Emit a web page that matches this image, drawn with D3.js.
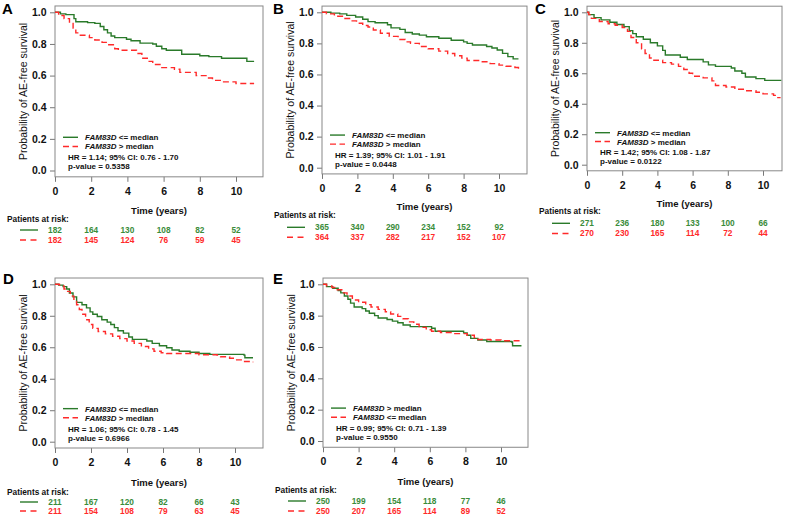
<!DOCTYPE html>
<html><head><meta charset="utf-8">
<script src="https://cdn.jsdelivr.net/npm/d3@7"></script>
<style>
html,body{margin:0;padding:0;background:#fff;}
svg{display:block;font-family:"Liberation Sans",Arial,sans-serif;}
</style></head>
<body><div id="chart"></div>
<script>
// ---------- data ----------
const xTicks = [0, 2, 4, 6, 8, 10];
const yTicks = [0, 0.2, 0.4, 0.6, 0.8, 1.0];
const panelNames = ["A", "B", "C", "D", "E"];

const A_green = [[0,1],[0.3,0.99],[0.6,0.985],[1.05,0.96],[1.15,0.94],[1.8,0.935],[2.2,0.93],[2.5,0.91],[2.7,0.89],[2.9,0.87],[3.1,0.85],[3.3,0.84],[3.95,0.83],[4.2,0.82],[4.7,0.805],[5.4,0.80],[5.6,0.785],[5.9,0.77],[6.15,0.76],[7.0,0.735],[8.0,0.725],[8.5,0.72],[9.2,0.71],[10.6,0.69],[11.0,0.69]];
const A_red = [[0,1],[0.2,0.98],[0.5,0.96],[0.8,0.93],[1.0,0.90],[1.15,0.87],[1.4,0.855],[1.9,0.84],[2.2,0.825],[2.6,0.81],[2.9,0.795],[3.3,0.77],[3.5,0.76],[4.5,0.74],[4.8,0.71],[5.1,0.69],[5.4,0.67],[5.8,0.65],[6.6,0.64],[6.9,0.62],[7.8,0.60],[8.4,0.585],[8.7,0.57],[9.2,0.56],[10.0,0.55],[11.0,0.55]];
const B_green = [[0,1],[0.5,0.995],[1.0,0.99],[1.4,0.98],[1.9,0.97],[2.3,0.955],[2.6,0.94],[3.0,0.933],[3.7,0.92],[3.9,0.90],[4.4,0.89],[4.7,0.87],[5.1,0.86],[5.5,0.853],[5.9,0.843],[6.6,0.833],[7.3,0.82],[8.0,0.81],[8.2,0.80],[8.5,0.79],[9.3,0.78],[9.6,0.77],[9.9,0.757],[10.2,0.736],[10.5,0.715],[10.8,0.70],[11.1,0.70]];
const B_red = [[0,1],[0.25,0.99],[0.7,0.975],[1.2,0.96],[1.6,0.945],[1.95,0.93],[2.3,0.915],[2.6,0.905],[2.9,0.886],[3.3,0.865],[3.8,0.845],[4.3,0.825],[4.7,0.81],[5.0,0.80],[5.5,0.78],[6.0,0.765],[6.6,0.75],[7.1,0.735],[7.5,0.72],[7.9,0.705],[8.2,0.69],[8.9,0.682],[9.5,0.67],[10.0,0.66],[10.4,0.653],[10.9,0.645],[11.1,0.635],[11.15,0.635]];
const C_green = [[0,1],[0.1,0.985],[0.4,0.965],[0.8,0.95],[1.3,0.935],[1.7,0.92],[2.1,0.906],[2.4,0.88],[2.6,0.86],[2.8,0.84],[3.2,0.823],[3.6,0.80],[4.0,0.78],[4.3,0.75],[4.45,0.72],[5.3,0.705],[5.7,0.69],[6.6,0.675],[6.9,0.655],[7.3,0.645],[8.2,0.635],[8.4,0.615],[8.8,0.60],[9.0,0.575],[9.6,0.565],[10.1,0.553],[11.0,0.55]];
const C_red = [[0,1],[0.1,0.985],[0.25,0.96],[0.7,0.94],[1.2,0.925],[1.6,0.915],[2.0,0.90],[2.3,0.875],[2.5,0.835],[2.8,0.80],[3.1,0.76],[3.3,0.73],[3.55,0.70],[3.8,0.685],[4.3,0.67],[4.8,0.66],[5.2,0.645],[5.5,0.625],[5.8,0.60],[6.0,0.58],[6.6,0.57],[7.1,0.55],[7.3,0.52],[7.9,0.51],[8.4,0.495],[9.0,0.485],[9.6,0.475],[10.0,0.465],[10.6,0.455],[10.8,0.44],[11.0,0.44]];
const D_green = [[0,1],[0.2,0.995],[0.45,0.985],[0.65,0.97],[0.8,0.945],[1.0,0.92],[1.2,0.885],[1.5,0.87],[1.75,0.85],[1.95,0.825],[2.1,0.81],[2.35,0.795],[2.6,0.775],[2.9,0.76],[3.1,0.745],[3.3,0.725],[3.5,0.705],[3.8,0.69],[4.1,0.665],[4.3,0.65],[5.1,0.64],[5.4,0.625],[5.8,0.61],[6.2,0.597],[6.5,0.583],[6.9,0.575],[7.5,0.568],[8.0,0.56],[8.6,0.555],[10.5,0.55],[10.55,0.533],[11.0,0.533]];
const D_red = [[0,1],[0.25,0.99],[0.5,0.97],[0.65,0.955],[0.85,0.925],[1.05,0.9],[1.2,0.87],[1.35,0.84],[1.5,0.81],[1.7,0.775],[1.9,0.745],[2.1,0.72],[2.4,0.70],[2.8,0.685],[3.2,0.67],[3.6,0.655],[4.0,0.64],[4.4,0.625],[4.8,0.605],[5.2,0.59],[5.5,0.575],[5.9,0.565],[6.2,0.56],[8.0,0.552],[9.0,0.55],[9.2,0.54],[9.7,0.53],[10.0,0.52],[10.4,0.51],[11.0,0.505]];
const E_green = [[0,1],[0.2,0.985],[0.55,0.975],[0.85,0.96],[1.0,0.945],[1.2,0.925],[1.4,0.905],[1.55,0.88],[1.75,0.855],[2.2,0.845],[2.4,0.83],[2.6,0.815],[2.9,0.80],[3.1,0.785],[3.6,0.775],[3.9,0.765],[4.2,0.755],[4.5,0.74],[4.9,0.73],[6.1,0.72],[6.3,0.70],[7.9,0.69],[8.1,0.675],[8.3,0.655],[8.7,0.645],[9.2,0.635],[10.6,0.632],[10.65,0.608],[11.15,0.608]];
const E_red = [[0,1],[0.2,0.99],[0.5,0.98],[0.8,0.965],[1.1,0.945],[1.35,0.925],[1.65,0.90],[2.0,0.885],[2.4,0.87],[2.7,0.855],[3.1,0.84],[3.5,0.825],[3.8,0.81],[4.2,0.795],[4.5,0.78],[4.8,0.76],[5.1,0.745],[5.4,0.725],[5.8,0.71],[6.1,0.70],[6.6,0.692],[7.3,0.685],[8.1,0.675],[8.5,0.66],[8.7,0.648],[9.4,0.645],[10.0,0.64],[11.15,0.64]];

const A_risk_green = [182, 164, 130, 108, 82, 52];
const A_risk_red   = [182, 145, 124, 76, 59, 45];
const B_risk_green = [365, 340, 290, 234, 152, 92];
const B_risk_red   = [364, 337, 282, 217, 152, 107];
const C_risk_green = [271, 236, 180, 133, 100, 66];
const C_risk_red   = [270, 230, 165, 114, 72, 44];
const D_risk_green = [211, 167, 120, 82, 66, 43];
const D_risk_red   = [211, 154, 108, 79, 63, 45];
const E_risk_green = [250, 199, 154, 118, 77, 46];
const E_risk_red   = [250, 207, 165, 114, 89, 52];

const legendGreen = ["<= median", "<= median", "<= median", "<= median", "> median"];
const legendRed   = ["> median", "> median", "> median", "> median", "<= median"];
const hrTexts = ["HR = 1.14; 95% CI: 0.76 - 1.70", "HR = 1.39; 95% CI: 1.01 - 1.91", "HR = 1.42; 95% CI: 1.08 - 1.87", "HR = 1.06; 95% CI: 0.78 - 1.45", "HR = 0.99; 95% CI: 0.71 - 1.39"];
const pTexts = ["p-value = 0.5358", "p-value = 0.0448", "p-value = 0.0122", "p-value = 0.6966", "p-value = 0.9550"];

// ---------- layout ----------
const layouts = [
  {left:55,  x10:236, right:263, y1:12.3,  y0:170.5, timeY:211, risk:[219,230,240],   lx:2,   ly:13.5},
  {left:322, x10:499, right:527, y1:12.3,  y0:167.7, timeY:207, risk:[215.5,227.3,237.3], lx:273, ly:13.5},
  {left:587, x10:763, right:782, y1:12.3,  y0:164.7, timeY:204, risk:[211.5,223.3,233.5], lx:535, ly:13.5},
  {left:55,  x10:235, right:263, y1:284.3, y0:441.7, timeY:483, risk:[492,502,511],   lx:3,   ly:283.5},
  {left:323, x10:501, right:528, y1:284.3, y0:441,   timeY:482, risk:[490,501,511],   lx:273, ly:283.5}
];
const greens = [A_green, B_green, C_green, D_green, E_green];
const reds = [A_red, B_red, C_red, D_red, E_red];
const riskG = [A_risk_green, B_risk_green, C_risk_green, D_risk_green, E_risk_green];
const riskR = [A_risk_red, B_risk_red, C_risk_red, D_risk_red, E_risk_red];

const GREEN = "#2a7a2a", GREEN_T = "#3a8c3a", RED = "#ff2a2a";
const FONT = '"Liberation Sans", Arial, sans-serif';

const svg = d3.select("#chart").append("svg").attr("width", 789).attr("height", 515);

layouts.forEach((p, i) => {
  const g = svg.append("g");
  const x = d3.scaleLinear().domain([0, 10]).range([p.left, p.x10]);
  const y = d3.scaleLinear().domain([0, 1]).range([p.y0, p.y1]);
  const top = y(1.04), bottom = y(-0.04);

  // y axis
  const ya = g.append("g").attr("transform", `translate(${p.left},0)`)
    .call(d3.axisLeft(y).tickValues(yTicks).tickFormat(d3.format(".1f")).tickSize(5).tickPadding(3.5));
  ya.select(".domain").remove();
  ya.selectAll("line").attr("stroke", "#777");
  ya.selectAll("text").attr("font-size", 10.5).attr("font-weight", "bold").attr("font-family", FONT).attr("fill", "#111");

  // x axis
  const xa = g.append("g").attr("transform", `translate(0,${bottom})`)
    .call(d3.axisBottom(x).tickValues(xTicks).tickFormat(d3.format("d")).tickSize(5).tickPadding(5.5));
  xa.select(".domain").remove();
  xa.selectAll("line").attr("stroke", "#777");
  xa.selectAll("text").attr("font-size", 10.5).attr("font-weight", "bold").attr("font-family", FONT).attr("fill", "#111");

  // box
  g.append("rect").attr("x", p.left).attr("y", top).attr("width", p.right - p.left).attr("height", bottom - top)
    .attr("fill", "none").attr("stroke", "#888").attr("stroke-width", 1);

  // curves
  const line = d3.line().curve(d3.curveStepAfter).x(d => x(d[0])).y(d => y(d[1]));
  g.append("path").datum(greens[i]).attr("d", line).attr("fill", "none").attr("stroke", GREEN).attr("stroke-width", 1.4);
  g.append("path").datum(reds[i]).attr("d", line).attr("fill", "none").attr("stroke", RED).attr("stroke-width", 1.4).attr("stroke-dasharray", "6,3.5");

  // legend
  const legRows = [{v:0.21, c:GREEN, dash:null, t:legendGreen[i]}, {v:0.152, c:RED, dash:"6,3.5", t:legendRed[i]}];
  legRows.forEach(r => {
    g.append("line").attr("x1", p.left + 8).attr("x2", p.left + 23).attr("y1", y(r.v)).attr("y2", y(r.v))
      .attr("stroke", r.c).attr("stroke-width", 1.4).attr("stroke-dasharray", r.dash);
    const t = g.append("text").attr("x", p.left + 30).attr("y", y(r.v) + 3).attr("font-size", 8).attr("font-weight", "bold").attr("font-family", FONT).attr("fill", "#111");
    t.append("tspan").attr("font-style", "italic").text("FAM83D");
    t.append("tspan").text(" " + r.t);
  });
  g.append("text").attr("x", p.left + 13).attr("y", y(0.083) + 3).attr("font-size", 8).attr("font-weight", "bold").attr("font-family", FONT).attr("fill", "#111").text(hrTexts[i]);
  g.append("text").attr("x", p.left + 13).attr("y", y(0.026) + 3).attr("font-size", 8).attr("font-weight", "bold").attr("font-family", FONT).attr("fill", "#111").text(pTexts[i]);

  // axis titles
  g.append("text").attr("transform", `translate(${p.left - 32},${(p.y0 + p.y1) / 2}) rotate(-90)`)
    .attr("text-anchor", "middle").attr("dy", "0.35em").attr("font-size", 10.5).attr("font-family", FONT).attr("fill", "#111")
    .text("Probability of AE-free survival");
  g.append("text").attr("x", (p.left + p.right) / 2).attr("y", p.timeY).attr("dy", "0.35em").attr("text-anchor", "middle")
    .attr("font-size", 9.5).attr("font-weight", "bold").attr("font-family", FONT).attr("fill", "#111").text("Time (years)");

  // panel letter
  g.append("text").attr("x", p.lx).attr("y", p.ly).attr("font-size", 15).attr("font-weight", "bold").attr("font-family", FONT).attr("fill", "#000").text(panelNames[i]);

  // risk table
  g.append("text").attr("x", p.left - 48).attr("y", p.risk[0]).attr("dy", "0.35em").attr("font-size", 8.3).attr("font-weight", "bold").attr("font-family", FONT).attr("fill", "#111").text("Patients at risk:");
  [[riskG[i], GREEN, GREEN_T, null, p.risk[1]], [riskR[i], RED, RED, "6,4.5", p.risk[2]]].forEach(([vals, lc, tc, dash, yy]) => {
    g.append("line").attr("x1", p.left - 35).attr("x2", p.left - 17).attr("y1", yy).attr("y2", yy)
      .attr("stroke", lc).attr("stroke-width", 1.4).attr("stroke-dasharray", dash);
    g.selectAll(null).data(vals).enter().append("text")
      .attr("x", (d, k) => x(xTicks[k])).attr("y", yy).attr("dy", "0.35em").attr("text-anchor", "middle")
      .attr("font-size", 8.3).attr("font-weight", "bold").attr("font-family", FONT).attr("fill", tc).text(d => d);
  });
});
</script></body></html>
